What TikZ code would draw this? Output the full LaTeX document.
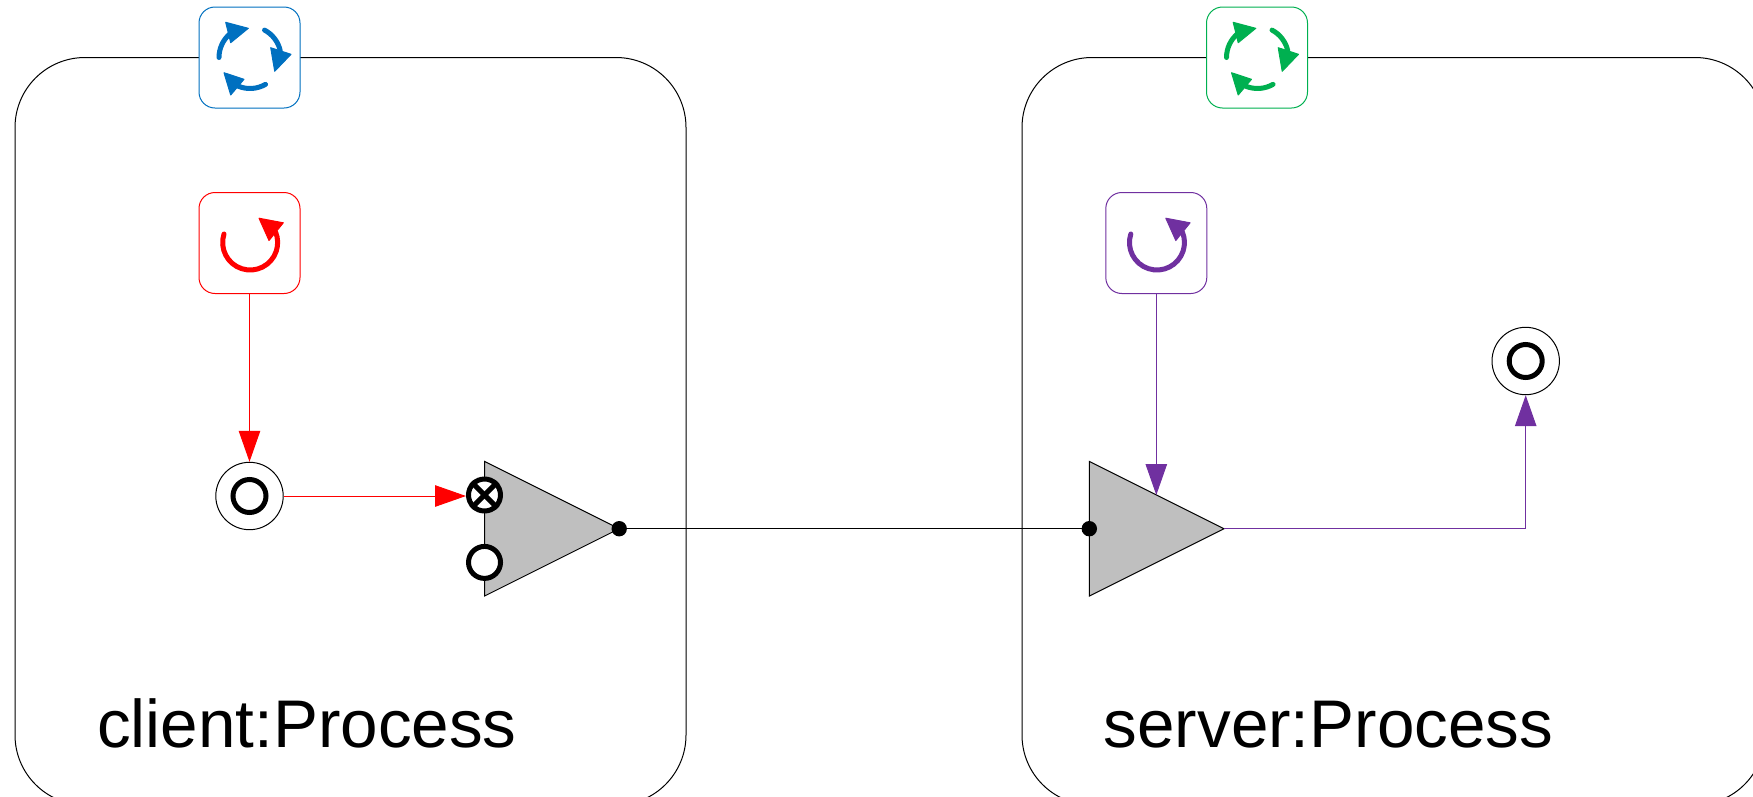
\documentclass[tikz,border=0pt]{standalone}
\usepackage{fontspec}
\setmainfont{Liberation Sans}
\usepackage{tikz}
\usetikzlibrary {arrows.meta,
                 positioning,
                 shapes.geometric}
\definecolor{cycleblue}{HTML}{0070C0}
\definecolor{cyclegreen}{HTML}{00B050}
\definecolor{startpurple}{HTML}{7030A0}
\definecolor{netgray}{HTML}{BFBFBF}
\tikzset{
         procbox/.style={draw, line width=1pt, rounded corners=70pt, minimum height=747.5pt},
         iconbox/.style={draw, fill=white, line width=1pt, rounded corners=16pt, minimum size=101pt, inner sep=0pt},
         statenode/.style={draw, circle, fill=white, line width=1pt, minimum size=67.4pt, inner sep=0pt},
         innerring/.style={draw=black, circle, line width=5pt, minimum size=33pt, inner sep=0pt},
         netnode/.style={draw, fill=netgray, line width=1pt, isosceles triangle, isosceles triangle apex angle=53.13,
                         minimum height=134.7pt, inner sep=0pt, outer sep=0pt, anchor=lower side},
         portnode/.style={draw, circle, fill=white, line width=5pt, minimum size=32pt, inner sep=0pt},
         dotnode/.style={circle, fill=black, minimum size=15.4pt, inner sep=0pt, outer sep=0pt},
         procname/.style={font=\fontsize{67.4}{80}\selectfont, inner sep=0pt, anchor=base west},
         myarrow/.style={-{Triangle[length=31pt,width=21.5pt]}, line width=1pt},
         iconline/.style={line width=5pt, line cap=round},
         iconhead/.style={line width=1pt, line join=round},
         pics/cyclemark/.style={code={
             \draw[iconline] (-30.5,0) arc[start angle=180, end angle=131, radius=31];
             \filldraw[iconhead] (-1.2,29.2) -- (-23.8,35.2) -- (-18.8,14.8) -- cycle;
             \draw[iconline] (15.05,27.4) arc[start angle=62, end angle=12, radius=31];
             \filldraw[iconhead] (21.2,9.8) -- (41.5,3.2) -- (25.2,-13.8) -- cycle;
             \draw[iconline] (16,-26.85) arc[start angle=-60, end angle=-112, radius=31];
             \filldraw[iconhead] (-25.5,-15.2) -- (-5.5,-21.8) -- (-18.8,-37.5) -- cycle;
         }},
         pics/startmark/.style={code={
             \draw[iconline] (-25.5,9) arc[start angle=162, end angle=382, radius=27.5];
             \filldraw[iconhead] (9.5,24.8) -- (33.8,20.2) -- (19.5,2.5) -- cycle;
         }},
}

\begin{document}
\begin{tikzpicture}[x=1pt, y=1pt]
    \useasboundingbox (0,0) rectangle (1753,-796);

    % client
    \node[procbox, minimum width=671pt] (clientproc) at (350.5,-431.25) {};
    \node[iconbox, draw=cycleblue] (clientcycle) at (249.5,-57.5) {};
    \pic[color=cycleblue] at (clientcycle) {cyclemark};
    \node[iconbox, draw=red, below=83.5pt of clientcycle] (clientstart) {};
    \pic[color=red] at (clientstart) {startmark};
    \node[statenode, below=167.8pt of clientstart] (clientstate) {};
    \node[innerring] (clientring) at (clientstate) {};
    \node[netnode] (clientnet) at (484.5,-528.7) {};
    \node[portnode] (clientcross) at ([yshift=33.7pt]clientnet.lower side) {};
    \draw[line width=5pt] (clientcross.north west) -- (clientcross.south east);
    \draw[line width=5pt] (clientcross.north east) -- (clientcross.south west);
    \node[portnode] (clientport) at ([yshift=-33.7pt]clientnet.lower side) {};
    \node[dotnode] (clientout) at (clientnet.apex) {};
    \node[procname] (clientname) at (97,-747) {client:Process};
    \draw[myarrow, red] (clientstart) -- (clientstate);
    \draw[myarrow, red] (clientstate) -- (clientstate -| clientcross.west);

    % server
    \node[procbox, minimum width=743pt] (serverproc) at (1393.5,-431.25) {};
    \node[iconbox, draw=cyclegreen] (servercycle) at (1257,-57.5) {};
    \pic[color=cyclegreen] at (servercycle) {cyclemark};
    \node[iconbox, draw=startpurple] (serverstart) at (1156.3,-243) {};
    \pic[color=startpurple] at (serverstart) {startmark};
    \node[netnode] (servernet) at (1089.3,-528.7) {};
    \node[dotnode] (serverin) at (servernet.lower side) {};
    \node[statenode] (serverstate) at (1525.7,-361) {};
    \node[innerring] (serverring) at (serverstate) {};
    \node[procname] (servername) at (1103.5,-747) {server:Process};
    \draw[myarrow, startpurple] (serverstart) -- (serverstart |- servernet.left side);
    \draw[myarrow, startpurple] (servernet.apex) -| (serverstate);

    % Verbindung
    \draw[line width=1pt] (clientout) -- (serverin);
\end{tikzpicture}
\end{document}
